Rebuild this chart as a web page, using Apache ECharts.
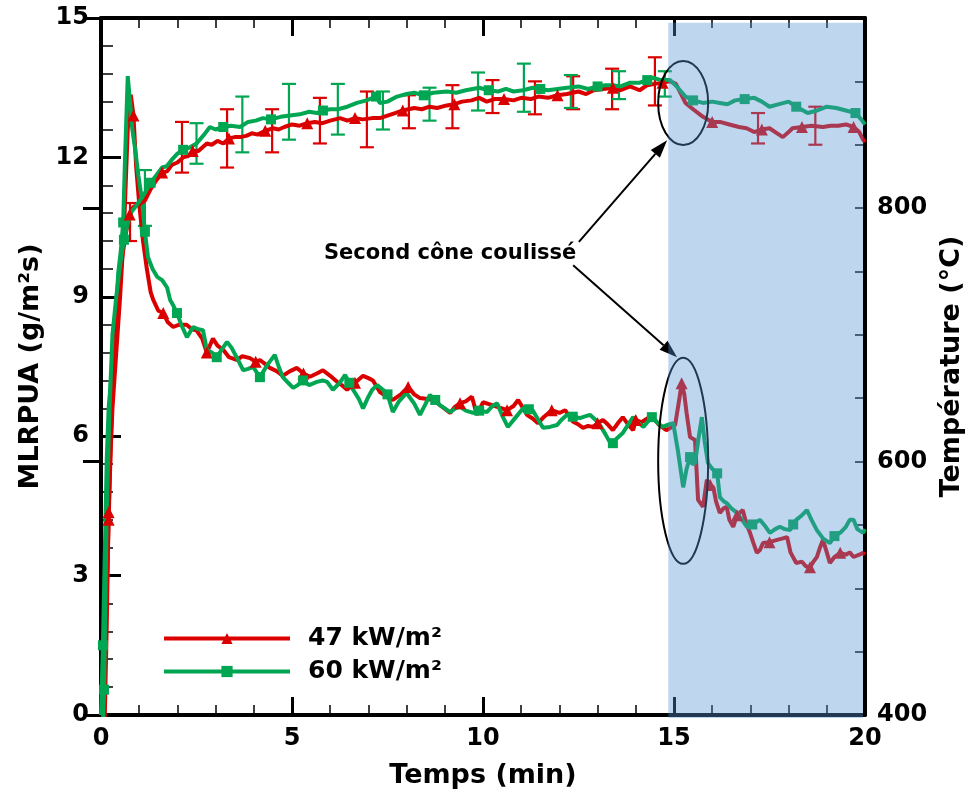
<!DOCTYPE html>
<html><head><meta charset="utf-8">
<script src="https://cdn.jsdelivr.net/npm/echarts@6/dist/echarts.min.js"></script>
<style>html,body{margin:0;padding:0;background:#fff}#c{width:968px;height:800px}</style>
</head><body><div id="c"></div>
<script>
// ---- Data ----
const mlrT47 = [0,0.05,0.1,0.15,0.2,0.25,0.3,0.4,0.5,0.6,0.7,0.78,0.85,0.92,1,1.1,1.2,1.3,1.36,1.5,1.63,1.75,1.89,2.05,2.24,2.38,2.5,2.65,2.77,2.93,3.05,3.2,3.35,3.55,3.7,3.9,4.05,4.16,4.3,4.42,4.6,4.76,4.95,5.13,5.3,5.47,5.65,5.81,6,6.18,6.3,6.44,6.65,6.86,7,7.12,7.3,7.49,7.64,7.85,8.04,8.2,8.35,8.55,8.7,8.9,9.14,9.25,9.4,9.55,9.71,9.84,10,10.2,10.37,10.5,10.63,10.8,10.92,11.05,11.15,11.3,11.44,11.6,11.8,12,12.15,12.36,12.5,12.62,12.75,12.88,13,13.14,13.27,13.4,13.55,13.66,13.8,13.93,14,14.15,14.3,14.45,14.6,14.8,15.03,15.12,15.2,15.27,15.33,15.42,15.55,15.63,15.76,15.86,15.95,16.03,16.1,16.2,16.3,16.38,16.45,16.55,16.65,16.8,16.9,16.99,17.08,17.17,17.25,17.33,17.5,17.7,17.85,17.96,18.05,18.2,18.35,18.45,18.56,18.65,18.74,18.82,18.9,19,19.08,19.2,19.35,19.5,19.6,19.7,19.85,19.95,20];
const mlrV47 = [0,0.2,0.8,2.6,4.2,5.6,6.6,7.8,9.0,10.4,12.6,13.35,12.9,11.8,11.0,10.2,9.6,9.1,8.95,8.7,8.65,8.45,8.35,8.4,8.4,8.3,8.28,8.1,7.8,8.1,7.95,7.86,7.7,7.64,7.72,7.68,7.6,7.64,7.55,7.47,7.4,7.3,7.4,7.47,7.35,7.28,7.35,7.42,7.3,7.17,7.1,7.0,7.15,7.3,7.25,7.2,6.95,6.85,6.78,6.9,7.06,6.9,6.82,6.8,6.78,6.65,6.5,6.62,6.71,6.75,6.85,6.46,6.73,6.68,6.63,6.6,6.56,6.65,6.78,6.6,6.46,6.38,6.28,6.42,6.56,6.5,6.56,6.31,6.25,6.18,6.22,6.2,6.28,6.35,6.25,6.13,6.3,6.41,6.25,6.13,6.35,6.3,6.38,6.41,6.25,6.13,6.24,6.7,7.14,6.9,6.5,5.98,5.92,4.63,4.48,5.06,4.95,4.9,4.6,4.35,4.45,4.48,4.2,4.05,4.3,4.41,4.1,3.92,3.7,3.49,3.55,3.7,3.72,3.77,3.8,3.83,3.5,3.27,3.3,3.2,3.18,3.3,3.4,3.6,3.77,3.5,3.27,3.4,3.49,3.45,3.5,3.4,3.45,3.49,3.45];

const mlrT60 = [0,0.05,0.1,0.15,0.2,0.3,0.4,0.45,0.52,0.58,0.63,0.7,0.76,0.82,0.89,0.98,1.07,1.15,1.23,1.35,1.47,1.6,1.73,1.81,1.9,1.99,2.1,2.25,2.41,2.55,2.67,2.77,2.9,3.03,3.15,3.3,3.42,3.55,3.72,3.85,3.98,4.16,4.35,4.55,4.65,4.76,4.9,5.03,5.15,5.29,5.45,5.65,5.8,5.92,6.07,6.25,6.39,6.5,6.6,6.75,6.86,7,7.1,7.23,7.38,7.5,7.64,7.8,8,8.2,8.35,8.5,8.61,8.75,8.87,9,9.14,9.28,9.4,9.55,9.74,9.9,10.1,10.25,10.37,10.5,10.65,10.85,11.05,11.2,11.3,11.45,11.57,11.75,11.94,12.05,12.2,12.35,12.54,12.65,12.8,12.95,13.06,13.2,13.3,13.4,13.5,13.66,13.8,13.93,14.05,14.2,14.3,14.42,14.55,14.7,14.85,14.98,15.1,15.24,15.33,15.42,15.48,15.55,15.65,15.73,15.8,15.89,16,16.13,16.2,16.3,16.38,16.5,16.65,16.78,16.91,17.05,17.25,17.4,17.51,17.65,17.77,17.9,18.04,18.12,18.2,18.35,18.48,18.6,18.74,18.9,19.08,19.2,19.35,19.5,19.6,19.7,19.8,19.95,20];
const mlrV60 = [0,1.5,3.5,5.5,6.6,7.6,8.8,9.5,10.0,10.6,12.0,13.75,13.2,12.6,12.2,11.6,11.1,10.4,9.85,9.6,9.43,9.36,9.2,8.93,8.8,8.65,8.4,8.13,8.35,8.3,8.28,7.86,7.8,7.7,7.85,8.03,7.9,7.7,7.42,7.45,7.49,7.27,7.53,7.75,7.5,7.27,7.15,7.04,7.1,7.2,7.1,7.17,7.2,7.17,7.0,7.15,7.32,7.15,7.0,6.8,6.6,6.85,7.0,7.1,7.0,6.9,6.52,6.75,6.93,6.7,6.46,6.7,6.89,6.78,6.67,6.6,6.52,6.6,6.63,6.55,6.5,6.55,6.52,6.65,6.71,6.45,6.2,6.4,6.6,6.58,6.56,6.35,6.18,6.2,6.24,6.35,6.46,6.42,6.39,6.42,6.46,6.35,6.24,6.05,5.9,5.85,5.95,6.07,6.25,6.41,6.3,6.2,6.3,6.41,6.3,6.2,6.25,6.28,5.7,4.9,5.3,5.55,5.4,5.42,6.0,6.41,5.9,5.42,5.3,5.2,4.69,4.6,4.56,4.45,4.35,4.2,4.05,4.1,4.2,4.05,3.92,4.0,4.05,4.0,3.98,4.1,4.2,4.3,4.41,4.2,3.98,3.8,3.7,3.85,3.92,4.05,4.2,4.2,4.0,3.92,4.0];

const tempT47 = [0,0.1,0.15,0.2,0.28,0.35,0.45,0.55,0.65,0.75,0.85,1,1.15,1.3,1.45,1.6,1.73,1.85,2,2.15,2.28,2.4,2.55,2.77,2.9,3.05,3.2,3.35,3.5,3.64,3.8,3.95,4.1,4.3,4.5,4.65,4.8,5,5.2,5.4,5.6,5.8,6,6.26,6.45,6.65,6.85,7.1,7.3,7.5,7.7,7.9,8.2,8.4,8.6,8.8,9.05,9.25,9.45,9.7,9.9,10.1,10.3,10.55,10.8,11,11.25,11.45,11.7,11.95,12.2,12.5,12.7,12.9,13.15,13.4,13.6,13.85,14.1,14.3,14.5,14.7,14.9,15.05,15.3,15.5,15.76,16,16.2,16.45,16.7,16.9,17.1,17.3,17.5,17.7,17.85,18,18.1,18.35,18.6,18.9,19.1,19.3,19.5,19.7,19.85,19.95,20];
const tempV47 = [330,400,470,560,640,690,730,760,780,795,801,803,806,815,822,828,829,834,836,840,841,845,845,851,850,853,851,855,856,856,857,859,858,861,863,862,864,866,865,867,868,867,869,871,869,871,870,871,871,873,875,877,879,878,880,879,881,882,884,885,887,884,886,886,885,887,886,888,887,889,890,892,890,893,894,895,893,896,893,897,898,899,900,898,883,878,872,868,868,866,864,863,860,862,863,859,856,860,863,864,865,864,865,865,866,864,860,854,852];

const tempT60 = [0,0.08,0.15,0.22,0.3,0.4,0.5,0.6,0.7,0.8,0.9,1.02,1.15,1.3,1.45,1.6,1.72,1.85,2,2.15,2.33,2.5,2.7,2.85,3,3.2,3.4,3.64,3.85,4.05,4.24,4.45,4.7,4.95,5.2,5.45,5.65,5.81,6,6.2,6.45,6.7,6.95,7.2,7.3,7.5,7.75,8,8.2,8.45,8.7,9.05,9.3,9.55,9.9,10.15,10.4,10.6,10.8,11.05,11.3,11.5,11.7,11.95,12.2,12.5,12.75,13,13.2,13.4,13.6,13.85,14.1,14.3,14.45,14.65,14.9,15.1,15.3,15.5,15.76,16,16.2,16.4,16.6,16.85,17.1,17.3,17.5,17.75,18,18.2,18.5,18.75,19,19.25,19.5,19.75,19.9,20];
const tempV60 = [350,420,560,640,700,730,755,775,788,797,801,806,812,820,826,832,833,838,843,846,848,851,858,864,862,864,865,864,868,869,871,870,872,873,874,876,875,877,878,878,880,883,885,888,883,884,888,890,891,889,891,892,891,893,895,893,892,894,892,893,895,894,893,894,895,896,894,896,897,897,896,899,899,901,903,901,901,895,888,885,883,884,883,882,885,886,887,884,880,882,884,880,875,877,880,879,877,875,870,866];

const errT47 = [0.76,2.12,3.30,4.48,5.73,6.96,8.06,9.20,10.25,11.36,12.36,13.38,14.50,17.20,18.70];
const errMean47 = [789,848,855,861,869,870,876,880,888,887,891,894,900,863,865];
const errDev47 = [15,20,23,17,18,22,13,17,13,13,13,16,19,12,15];
const errT60 = [1.15,2.50,3.70,4.92,6.20,7.38,8.60,9.87,11.07,12.30,13.56,14.76];
const errMean60 = [808,851,866,876,878,877,882,892,895,892,897,898];
const errDev60 = [22,16,22,22,20,15,13,15,19,13,11,10];

const seriesNames = ['47 kW/m²', '60 kW/m²'];
const annotationText = 'Second cône coulissé';
// annotation anchors in data coordinates (time, MLRPUA)
const annotTextPos = [9.14, 9.94];
const arrowFrom = [[12.51, 10.18], [12.36, 9.68]];
const arrowTo = [[14.82, 12.37], [15.08, 7.70]];
const ellipseCenters = [[15.24, 13.17], [15.24, 5.47]];
const shadeFrom = 14.85;

// ---- Chart ----
const FONT = 'DejaVu Sans';
const RED = '#db0000', GREEN = '#00a651';
const chart = echarts.init(document.getElementById('c'));
const pairs = (ts, vs) => ts.map((t, i) => [t, vs[i]]);
const marker = (size, step, off) => (v, p) => (p.dataIndex % step === off ? size : 0);
const labelStyle = {fontFamily: FONT, fontWeight: 'bold', fontSize: 24, color: '#000'};
const nameStyle = {fontFamily: FONT, fontWeight: 'bold', fontSize: 27, color: '#000'};
const axisLine = {show: true, onZero: false, lineStyle: {color: '#000', width: 4}};

function errBar(color) {
  return function (params, api) {
    const t = api.value(0), m = api.value(1), d = api.value(2);
    const lo = api.coord([t, m - d]), hi = api.coord([t, m + d]);
    const w = 7;
    const st = {stroke: color, lineWidth: 2.2};
    return {type: 'group', children: [
      {type: 'line', shape: {x1: lo[0], y1: lo[1], x2: hi[0], y2: hi[1]}, style: st},
      {type: 'line', shape: {x1: lo[0] - w, y1: lo[1], x2: lo[0] + w, y2: lo[1]}, style: st},
      {type: 'line', shape: {x1: hi[0] - w, y1: hi[1], x2: hi[0] + w, y2: hi[1]}, style: st}
    ]};
  };
}

const lineSeries = (name, data, yIdx, color, sym, size, step, off) => ({
  type: 'line', name, data, xAxisIndex: 0, yAxisIndex: yIdx,
  symbol: sym, symbolSize: marker(size, step, off), showAllSymbol: true,
  lineStyle: {color, width: 4}, itemStyle: {color}, clip: true, z: 3,
  emphasis: {disabled: true}
});

chart.setOption({
  animation: false,
  backgroundColor: '#fff',
  grid: {left: 101, right: 103, top: 18, bottom: 85, outerBoundsMode: 'none', containLabel: false},
  legend: {
    data: seriesNames, orient: 'vertical', left: 157, top: 621,
    itemWidth: 126, itemHeight: 14, itemGap: 8,
    lineStyle: {width: 4},
    textStyle: {fontFamily: FONT, fontWeight: 'bold', fontSize: 25, color: '#000', padding: [0, 0, 0, 13]}
  },
  xAxis: [
    {type: 'value', min: 0, max: 20, interval: 5, position: 'bottom',
     axisLine, axisTick: {inside: true, length: 18, lineStyle: {color: '#000', width: 3}},
     minorTick: {show: true, splitNumber: 5, length: 10, lineStyle: {color: '#000', width: 1.5}},
     splitLine: {show: false}, minorSplitLine: {show: false},
     axisLabel: Object.assign({margin: 12}, labelStyle),
     name: 'Temps (min)', nameLocation: 'middle', nameGap: 47, nameTextStyle: nameStyle},
    {type: 'value', min: 0, max: 20, interval: 5, position: 'top',
     axisLine, axisTick: {inside: true, length: 18, lineStyle: {color: '#000', width: 3}},
     minorTick: {show: true, splitNumber: 5, length: 10, lineStyle: {color: '#000', width: 1.5}},
     splitLine: {show: false}, axisLabel: {show: false}}
  ],
  yAxis: [
    {type: 'value', min: 0, max: 15, interval: 3, position: 'left',
     axisLine, axisTick: {inside: true, length: 20, lineStyle: {color: '#000', width: 3}},
     minorTick: {show: true, splitNumber: 5, length: 12, lineStyle: {color: '#000', width: 1.5}},
     splitLine: {show: false},
     axisLabel: Object.assign({margin: 12}, labelStyle),
     name: 'MLRPUA (g/m²s)', nameLocation: 'middle', nameGap: 57, nameTextStyle: nameStyle},
    {type: 'value', min: 400, max: 950, interval: 50, position: 'right',
     axisLine, axisTick: {inside: true, length: 10, lineStyle: {color: '#000', width: 1.5}},
     splitLine: {show: false},
     axisLabel: Object.assign({margin: 12, formatter: v => (v === 400 || v === 600 || v === 800) ? String(v) : ''}, labelStyle),
     name: 'Température (°C)', nameLocation: 'middle', nameGap: 70, nameTextStyle: nameStyle},
    {type: 'value', min: 400, max: 950, interval: 200, position: 'right',
     axisLine: {show: false}, axisTick: {inside: true, length: 18, lineStyle: {color: '#000', width: 3}},
     splitLine: {show: false}, axisLabel: {show: false}}
  ],
  series: [
    lineSeries(seriesNames[0], pairs(mlrT47, mlrV47), 0, RED, 'triangle', 12, 8, 4),
    lineSeries(seriesNames[1], pairs(mlrT60, mlrV60), 0, GREEN, 'rect', 10, 8, 1),
    lineSeries(seriesNames[0], pairs(tempT47, tempV47), 1, RED, 'triangle', 12, 6, 3),
    lineSeries(seriesNames[1], pairs(tempT60, tempV60), 1, GREEN, 'rect', 10, 6, 1),
    {type: 'custom', name: 'err47', xAxisIndex: 0, yAxisIndex: 1, z: 3,
     data: errT47.map((t, i) => [t, errMean47[i], errDev47[i]]),
     encode: {x: 0, y: 1}, renderItem: errBar(RED)},
    {type: 'custom', name: 'err60', xAxisIndex: 0, yAxisIndex: 1, z: 3,
     data: errT60.map((t, i) => [t, errMean60[i], errDev60[i]]),
     encode: {x: 0, y: 1}, renderItem: errBar(GREEN)}
  ]
});

// ---- Annotations positioned from data coordinates ----
const px = p => chart.convertToPixel({xAxisIndex: 0, yAxisIndex: 0}, p);
const graphics = [];
const tp = px(annotTextPos);
graphics.push({type: 'text', z: 60, x: tp[0], y: tp[1],
  style: {text: annotationText, fontFamily: FONT, fontWeight: 'bold', fontSize: 21, fill: '#000', align: 'center', verticalAlign: 'middle'}});
arrowFrom.forEach((f, i) => {
  const a = px(f), b = px(arrowTo[i]);
  const dx = b[0] - a[0], dy = b[1] - a[1], L = Math.hypot(dx, dy);
  const ux = dx / L, uy = dy / L, hl = 18, hw = 6;
  const bx = b[0] - ux * hl, by = b[1] - uy * hl;
  graphics.push({type: 'line', z: 60, shape: {x1: a[0], y1: a[1], x2: bx, y2: by}, style: {stroke: '#000', lineWidth: 2}});
  graphics.push({type: 'polygon', z: 60, shape: {points: [[b[0], b[1]], [bx - uy * hw, by + ux * hw], [bx + uy * hw, by - ux * hw]]}, style: {fill: '#000'}});
});
const ellR = [[25, 42], [25, 103]];
ellipseCenters.forEach((c, i) => {
  const p = px(c);
  graphics.push({type: 'ellipse', z: 60, shape: {cx: p[0], cy: p[1], rx: ellR[i][0], ry: ellR[i][1]}, style: {fill: 'none', stroke: '#000', lineWidth: 2}});
});
const s0 = px([shadeFrom, 14.9]), s1 = px([20, 0]);
graphics.push({type: 'rect', z: 100, shape: {x: s0[0], y: s0[1], width: s1[0] - s0[0] - 2, height: s1[1] - s0[1] + 3},
  style: {fill: 'rgba(88,146,212,0.38)'}});
chart.setOption({graphic: graphics});
</script>
</body></html>
